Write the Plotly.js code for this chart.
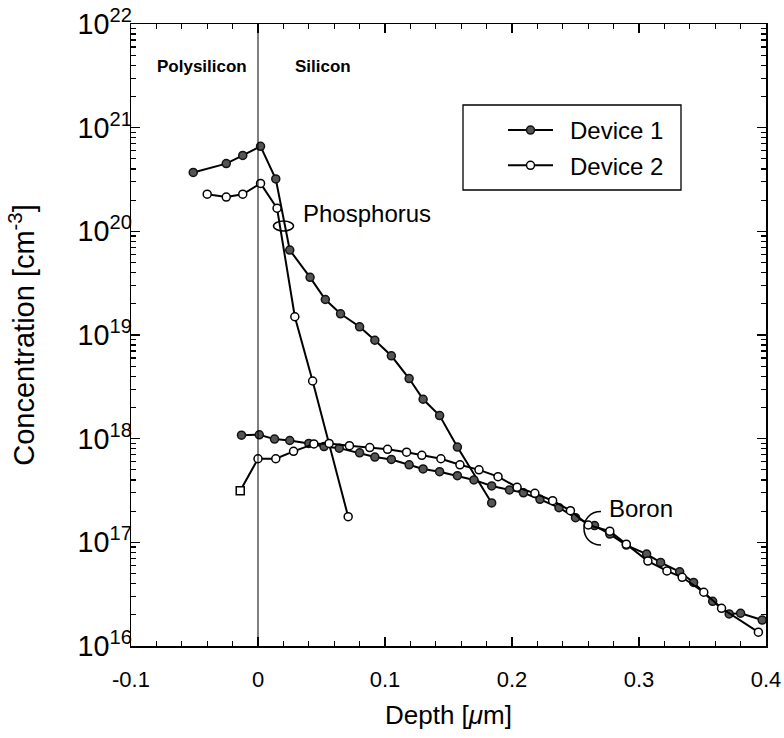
<!DOCTYPE html>
<html>
<head>
<meta charset="utf-8">
<script src="https://cdn.plot.ly/plotly-3.0.1.min.js"></script>
<style>html,body{margin:0;padding:0;background:#fff;}#chart{width:784px;height:738px;}</style>
</head>
<body>
<div id="chart"></div>
<script>
// Phosphorus, Device 1 (filled markers)
const p1Depth = [-0.051, -0.025, -0.012, 0.002, 0.014, 0.025, 0.041, 0.053, 0.065, 0.080, 0.092, 0.105, 0.119, 0.130, 0.143, 0.157, 0.184];
const p1Conc  = [3.7e20, 4.5e20, 5.4e20, 6.6e20, 3.2e20, 6.6e19, 3.6e19, 2.2e19, 1.6e19, 1.2e19, 8.9e18, 6.3e18, 3.8e18, 2.4e18, 1.67e18, 8.3e17, 2.4e17];
// Phosphorus, Device 2 (open markers)
const p2Depth = [-0.040, -0.025, -0.012, 0.002, 0.015, 0.029, 0.043, 0.071];
const p2Conc  = [2.28e20, 2.14e20, 2.28e20, 2.9e20, 1.67e20, 1.5e19, 3.6e18, 1.77e17];
// Boron, Device 1
const b1Depth = [-0.013, 0.001, 0.013, 0.025, 0.040, 0.052, 0.064, 0.080, 0.092, 0.105, 0.119, 0.130, 0.143, 0.157, 0.170, 0.184, 0.198, 0.209, 0.222, 0.237, 0.250, 0.265, 0.277, 0.290, 0.306, 0.317, 0.332, 0.343, 0.358, 0.371, 0.380, 0.397];
const b1Conc  = [1.08e18, 1.09e18, 9.9e17, 9.6e17, 9.0e17, 8.4e17, 8.1e17, 7.3e17, 6.65e17, 6.3e17, 5.6e17, 5.1e17, 4.8e17, 4.4e17, 4.0e17, 3.5e17, 3.2e17, 3.0e17, 2.6e17, 2.16e17, 1.73e17, 1.45e17, 1.2e17, 9.4e16, 7.7e16, 6.4e16, 5.2e16, 4.1e16, 2.7e16, 2.04e16, 2.07e16, 1.78e16];
// Boron, Device 2
const b2Depth = [-0.014, 0.000, 0.014, 0.028, 0.044, 0.056, 0.072, 0.088, 0.102, 0.117, 0.129, 0.144, 0.159, 0.174, 0.189, 0.204, 0.218, 0.232, 0.246, 0.260, 0.277, 0.290, 0.307, 0.322, 0.334, 0.351, 0.365, 0.394];
const b2Conc  = [3.15e17, 6.4e17, 6.4e17, 7.55e17, 8.9e17, 9.0e17, 8.55e17, 8.2e17, 7.9e17, 7.4e17, 6.9e17, 6.4e17, 5.6e17, 5.0e17, 4.3e17, 3.4e17, 2.97e17, 2.52e17, 2.02e17, 1.47e17, 1.28e17, 9.6e16, 6.6e16, 5.3e16, 4.6e16, 3.3e16, 2.31e16, 1.36e16];

const seriesNames = ['Device 1', 'Device 2'];
const xTickVals = [-0.1, 0, 0.1, 0.2, 0.3, 0.4];
const xTickText = ['-0.1', '0', '0.1', '0.2', '0.3', '0.4'];

const FONT = 'Liberation Sans, Arial, Helvetica, sans-serif';
const filled = {size: 8, color: '#555', line: {color: '#111', width: 1.5}};
const open = {size: 8, color: '#fff', line: {color: '#000', width: 1.5}};
const lineStyle = {color: '#000', width: 2};

const b2Symbols = b2Depth.map((d, i) => i === 0 ? 'square' : 'circle');

const traces = [
  {x: p1Depth, y: p1Conc, name: '\u2002' + seriesNames[0], legendgroup: 'd1', showlegend: true, mode: 'lines+markers', line: lineStyle, marker: filled},
  {x: b1Depth, y: b1Conc, name: seriesNames[0], legendgroup: 'd1', showlegend: false, mode: 'lines+markers', line: lineStyle, marker: filled},
  {x: p2Depth, y: p2Conc, name: '\u2002' + seriesNames[1], legendgroup: 'd2', showlegend: true, mode: 'lines+markers', line: lineStyle, marker: open},
  {x: b2Depth, y: b2Conc, name: seriesNames[1], legendgroup: 'd2', showlegend: false, mode: 'lines+markers', line: lineStyle, marker: Object.assign({}, open, {symbol: b2Symbols})}
];

const PX = px => (px - 131) / 635;
const PY = py => (646 - py) / 622;

const layout = {
  width: 784, height: 738,
  margin: {l: 131, r: 18, t: 24, b: 92},
  paper_bgcolor: '#fff', plot_bgcolor: '#fff',
  font: {family: FONT, color: '#000'},
  showlegend: true,
  legend: {
    x: PX(503), y: PY(108), xanchor: 'left', yanchor: 'top',
    bgcolor: 'rgba(0,0,0,0)', borderwidth: 0,
    font: {family: FONT, size: 24, color: '#000'},
    traceorder: 'grouped', tracegroupgap: 1, itemwidth: 45
  },
  xaxis: {
    range: [-0.1, 0.4],
    tickmode: 'array', tickvals: xTickVals, ticktext: xTickText,
    ticks: 'inside', ticklen: 9, tickwidth: 1.5, tickcolor: '#000',
    minor: {dtick: 0.02, ticks: 'inside', ticklen: 5, tickwidth: 1.2, tickcolor: '#000', showgrid: false},
    showline: true, linecolor: '#000', linewidth: 1.5, mirror: 'allticks',
    showgrid: false, zeroline: false,
    ticklabelstandoff: 13,
    tickfont: {family: FONT, size: 22, color: '#000'},
    title: {text: 'Depth [<i>μ</i>m]', font: {family: FONT, size: 26, color: '#000'}, standoff: 15}
  },
  yaxis: {
    type: 'log', range: [16, 22], dtick: 1, exponentformat: 'power',
    ticks: 'inside', ticklen: 9, tickwidth: 1.5, tickcolor: '#000',
    minor: {dtick: 'D1', ticks: 'inside', ticklen: 5, tickwidth: 1.2, tickcolor: '#000', showgrid: false},
    showline: true, linecolor: '#000', linewidth: 1.5, mirror: 'allticks',
    showgrid: false, zeroline: false,
    ticklabelstandoff: -7,
    tickfont: {family: FONT, size: 23, color: '#000'},
    title: {text: 'Concentration [cm<sup>-3</sup>]', font: {family: FONT, size: 29, color: '#000'}, standoff: 34}
  },
  shapes: [
    {type: 'line', xref: 'x', yref: 'paper', x0: 0, x1: 0, y0: 0, y1: 1, line: {color: '#000', width: 1}},
    {type: 'rect', xref: 'paper', yref: 'paper', x0: PX(463), x1: PX(681), y0: PY(190), y1: PY(105), line: {color: '#000', width: 1.3}},
    {type: 'circle', xref: 'paper', yref: 'paper', layer: 'below', x0: PX(273.5), x1: PX(293.5), y0: PY(231), y1: PY(221), line: {color: '#000', width: 1.5}},
    {type: 'path', xref: 'paper', yref: 'paper',
     path: 'M ' + PX(601) + ' ' + PY(511.5) + ' C ' + PX(578.3) + ' ' + PY(511.5) + ' ' + PX(578.3) + ' ' + PY(545) + ' ' + PX(601) + ' ' + PY(545),
     line: {color: '#000', width: 1.5}}
  ],
  annotations: [
    {xref: 'paper', yref: 'paper', x: PX(201.5), y: PY(67), text: 'Polysilicon', showarrow: false, font: {family: FONT, size: 17, color: '#000', weight: 'bold'}, xanchor: 'center', yanchor: 'middle'},
    {xref: 'paper', yref: 'paper', x: PX(322.5), y: PY(67), text: 'Silicon', showarrow: false, font: {family: FONT, size: 17, color: '#000', weight: 'bold'}, xanchor: 'center', yanchor: 'middle'},
    {xref: 'paper', yref: 'paper', x: PX(367), y: PY(214), text: 'Phosphorus', showarrow: false, font: {family: FONT, size: 24, color: '#000'}, xanchor: 'center', yanchor: 'middle'},
    {xref: 'paper', yref: 'paper', x: PX(641), y: PY(508), text: 'Boron', showarrow: false, font: {family: FONT, size: 24, color: '#000'}, xanchor: 'center', yanchor: 'middle'}
  ]
};

Plotly.newPlot('chart', traces, layout, {staticPlot: true, displayModeBar: false});
</script>
</body>
</html>
